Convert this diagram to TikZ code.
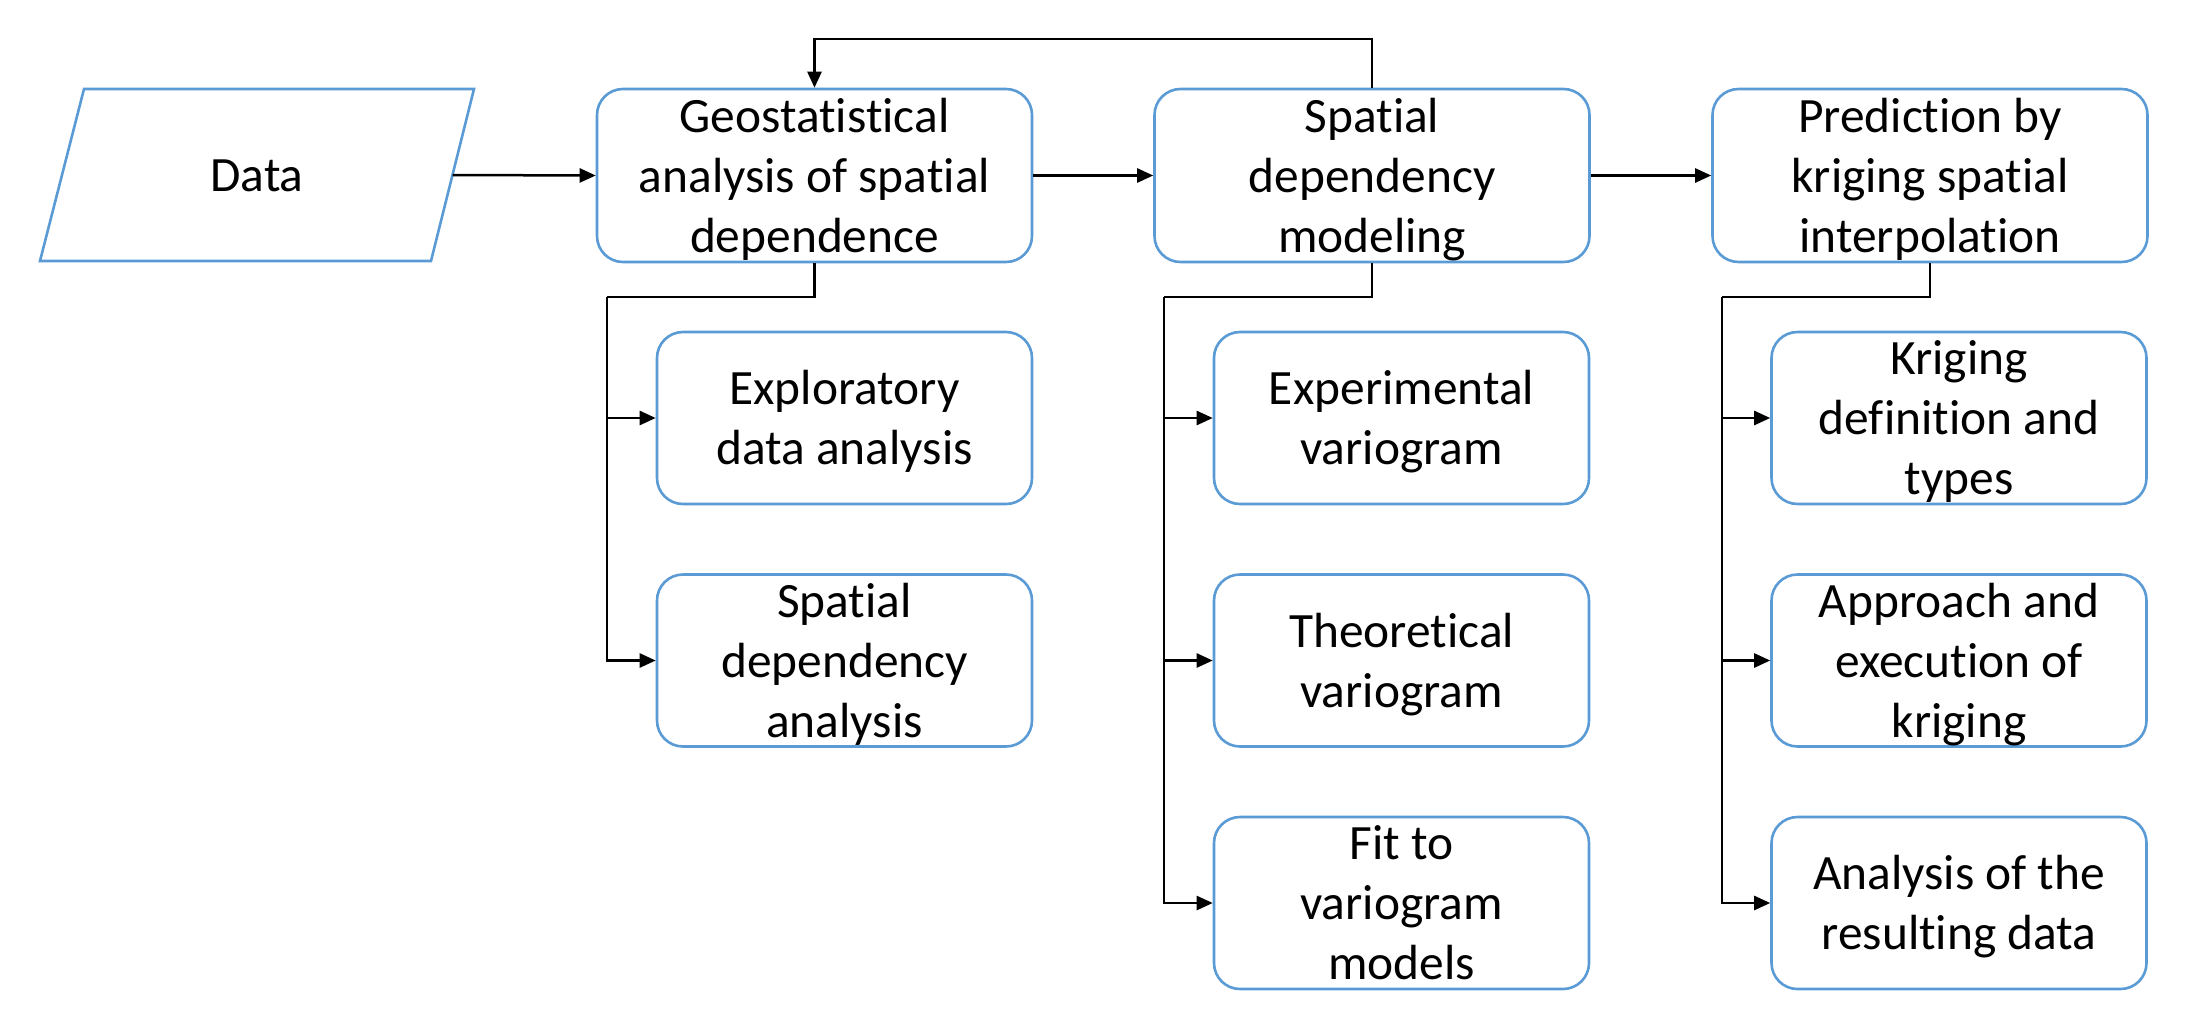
\documentclass[tikz,border=0pt]{standalone}
\usepackage{fontspec}
\setmainfont{Carlito}[Ligatures={NoCommon}]
\usetikzlibrary{arrows.meta}
\definecolor{boxblue}{HTML}{5B9BD5}
\newcommand{\ls}{\rule[-9pt]{0pt}{51pt}}
\tikzset{
  x=1pt, y=-1pt,
  every node/.style={font=\fontsize{49.4}{60}\selectfont},
  txt/.style={align=center},
  topbox/.style={txt, draw=boxblue, line width=2.6pt, rounded corners=26pt, fill=white,
    minimum width=435pt, minimum height=173pt, inner sep=0pt},
  subbox/.style={txt, draw=boxblue, line width=2.6pt, rounded corners=26pt, fill=white,
    minimum width=375pt, minimum height=172pt, inner sep=0pt},
  conn/.style={draw=black, line width=2.5pt},
  arr/.style={conn, -{Triangle[length=16pt,width=14pt]}}
}
\begin{document}
\begin{tikzpicture}
\useasboundingbox (0,0) rectangle (2194,1028);
% Data parallelogram
\coordinate (dTL) at (84,89);
\coordinate (dTR) at (474,89);
\coordinate (dBR) at (431,261);
\coordinate (dBL) at (40,261);
\coordinate (dataE) at (452.5,175);
\draw[boxblue, line width=2.6pt, line join=miter] (dTL) -- (dTR) -- (dBR) -- (dBL) -- cycle;
\node[txt, inner sep=0pt] (data) at (257,175) {\ls Data};
% top row
\node[topbox] (geo) at (814.5,175.5) {\ls Geostatistical\\\ls analysis of spatial\\\ls dependence};
\node[topbox] (model) at (1372,175.5) {\ls Spatial\\\ls dependency\\\ls modeling};
\node[topbox] (pred) at (1930,175.5) {\ls Prediction by\\\ls kriging spatial\\\ls interpolation};
% column 1
\node[subbox] (c11) at (844.5,418) {\ls Exploratory\\\ls data analysis};
\node[subbox] (c12) at (844.5,660.5) {\ls Spatial\\\ls dependency\\\ls analysis};
% column 2
\node[subbox] (c21) at (1401.5,418) {\ls Experimental\\\ls variogram};
\node[subbox] (c22) at (1401.5,660.5) {\ls Theoretical\\\ls variogram};
\node[subbox] (c23) at (1401.5,903) {\ls Fit to\\\ls variogram\\\ls models};
% column 3
\node[subbox] (c31) at (1959,418) {\ls Kriging\\\ls definition and\\\ls types};
\node[subbox] (c32) at (1959,660.5) {\ls Approach and\\\ls execution of\\\ls kriging};
\node[subbox] (c33) at (1959,903) {\ls Analysis of the\\\ls resulting data};
% main flow
\draw[arr] (dataE) -- (geo.west);
\draw[arr] (geo.east) -- (model.west);
\draw[arr] (model.east) -- (pred.west);
% feedback
\coordinate (fb) at (1100,39);
\draw[arr] (model.north) |- (fb) -| (geo.north);
% buses
\coordinate (b1) at (607,297);
\coordinate (b2) at (1164,297);
\coordinate (b3) at (1722,297);
\draw[conn] (geo.south) |- (b1);
\draw[conn] (model.south) |- (b2);
\draw[conn] (pred.south) |- (b3);
\draw[arr] (b1) |- (c11.west);
\draw[arr] (b1) |- (c12.west);
\draw[arr] (b2) |- (c21.west);
\draw[arr] (b2) |- (c22.west);
\draw[arr] (b2) |- (c23.west);
\draw[arr] (b3) |- (c31.west);
\draw[arr] (b3) |- (c32.west);
\draw[arr] (b3) |- (c33.west);
\end{tikzpicture}
\end{document}
